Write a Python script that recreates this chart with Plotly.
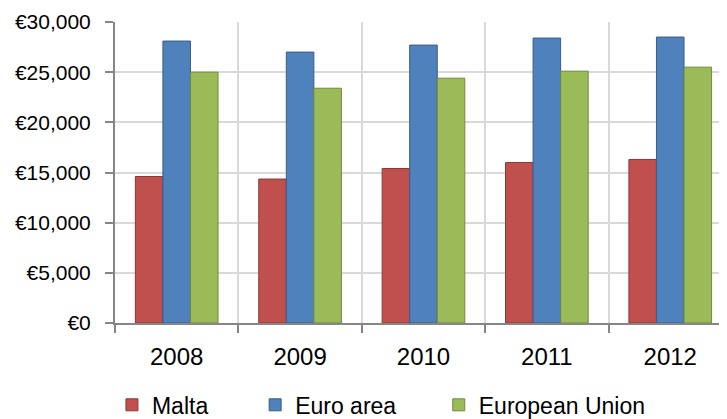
import plotly.graph_objects as go

years = ["2008", "2009", "2010", "2011", "2012"]
malta = [14600, 14350, 15400, 16000, 16300]
euro_area = [28100, 27000, 27700, 28400, 28500]
european_union = [25000, 23400, 24400, 25100, 25500]
y_ticks = [0, 5000, 10000, 15000, 20000, 25000, 30000]
y_tick_text = ["€0", "€5,000", "€10,000", "€15,000", "€20,000", "€25,000", "€30,000"]

series = [
    ("Malta", malta, "#C0504D", "#8C3836", "legend", -0.005),
    ("Euro area", euro_area, "#4F81BD", "#385D8A", "legend2", 0.229),
    ("European Union", european_union, "#9BBB59", "#71893F", "legend3", 0.529),
]

font_family = "Liberation Sans, Arial, sans-serif"

fig = go.Figure()
legends = {}
for name, vals, col, edge, lg, lx in series:
    fig.add_trace(go.Bar(
        name=name, x=years, y=vals, legend=lg, showlegend=True,
        marker=dict(color=col, line=dict(color=edge, width=1)),
    ))
    legends[lg] = dict(orientation="h", x=lx, xanchor="left", y=-0.272,
                       yanchor="middle", font=dict(size=23, family=font_family),
                       bgcolor="rgba(0,0,0,0)", borderwidth=0)

# page body has an 8px default margin, so the figure is sized to fill the window
fig.update_layout(
    width=719, height=411,
    margin=dict(l=107, r=0, t=14, b=96, autoexpand=False),
    paper_bgcolor="white", plot_bgcolor="white",
    barmode="group", bargap=0.33, bargroupgap=0,
    font=dict(family=font_family, size=20, color="black"),
    showlegend=True,
    xaxis=dict(
        type="category", range=[-0.5, 4.46], automargin=False,
        tickson="boundaries", ticks="outside", ticklen=8, tickcolor="#868686",
        tickwidth=2,
        showgrid=True, gridcolor="#D9D9D9", gridwidth=2,
        showline=True, linecolor="#868686", linewidth=2,
        tickfont=dict(size=24), ticklabelstandoff=11,
    ),
    yaxis=dict(
        range=[0, 30000], tickvals=y_ticks, ticktext=y_tick_text, automargin=False,
        ticks="outside", ticklen=8, tickcolor="#868686", tickwidth=2,
        showgrid=True, gridcolor="#D9D9D9", gridwidth=2,
        showline=True, linecolor="#868686", linewidth=2,
        zeroline=False, tickfont=dict(size=21), ticklabelstandoff=10,
    ),
    **legends,
)

fig.write_html("out.html")
